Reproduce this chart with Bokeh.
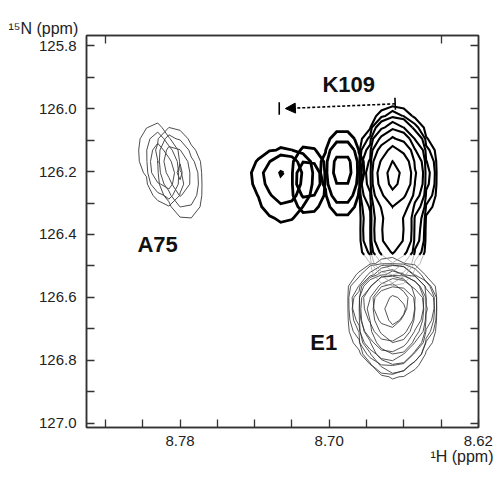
import numpy as np
import contourpy
from bokeh.plotting import figure
from bokeh.models import (Range1d, FixedTicker, LinearAxis, PrintfTickFormatter,
                          Label, Arrow, NormalHead, TeeHead, Title)
from bokeh.embed import file_html
from bokeh.resources import INLINE

# ---------------- axes ----------------
x_major = [8.78, 8.70, 8.62]
x_minor = [8.82, 8.80, 8.76, 8.74, 8.72, 8.68, 8.66, 8.64]
x_top_ticks = [8.82, 8.64]
y_major = [125.8, 126.0, 126.2, 126.4, 126.6, 126.8, 127.0]
y_minor = [125.9, 126.1, 126.3, 126.5, 126.7, 126.9]
x_title = "\u00b9H (ppm)"
y_title = "\u00b9\u2075N (ppm)"

# ---------------- peaks (ppm) ----------------
# each spectrum (group) is a sum of gaussian-like components
pk_group = ["A75a", "A75b", "K109a", "K109a", "K109b", "K109c", "K109d", "E1a", "E1b"]
pk_x     = [8.7895, 8.7820, 8.6662, 8.6662, 8.6930, 8.7241, 8.7112, 8.6675, 8.6650]
pk_y     = [126.193, 126.190, 126.212, 126.400, 126.190, 126.199, 126.225, 126.605, 126.625]
pk_amp   = [1.0, 1.0, 1.0, 0.2, 1.0, 1.0, 1.0, 1.0, 1.0]
pk_sxl   = [0.0036, 0.0036, 0.0041, 0.0041, 0.0040, 0.0062, 0.0029, 0.0058, 0.0055]
pk_sxr   = [0.0036, 0.0047, 0.0056, 0.0046, 0.0040, 0.0054, 0.0029, 0.0062, 0.0058]
pk_syu   = [0.056, 0.050, 0.0534, 0.060, 0.046, 0.027, 0.0405, 0.031, 0.030]
pk_syd   = [0.044, 0.062, 0.0534, 0.045, 0.060, 0.061, 0.0405, 0.060, 0.062]
pk_shear = [0.0335, 0.0335, 0.0, 0.0, 0.0, 0.0, 0.0, 0.0, 0.0]

lev_A75a  = [0.034, 0.12, 0.35, 0.8]
lev_A75b  = [0.034, 0.12, 0.35, 0.8]
lev_K109a = [0.000406, 0.00118, 0.0034, 0.0099, 0.0287, 0.0832, 0.241, 0.7]
lev_K109b = [0.044, 0.164, 0.546, 0.97]
lev_K109c = [0.034, 0.24, 0.9]
lev_K109d = [0.034, 0.25]
lev_E1a   = [0.0006, 0.002, 0.007, 0.025, 0.09, 0.33]
lev_E1b   = [0.001, 0.0035, 0.012, 0.045, 0.16, 0.6]

# K109 bold contours are cut at this 15N shift (thin below)
k109_cut = 126.465

# peak labels
lbl_text = ["K109", "A75", "E1"]
lbl_x    = [8.6895, 8.8029, 8.7101]
lbl_y    = [125.923, 126.431, 126.744]
lbl_align = ["center", "left", "left"]

# K109 shift arrow
arrow_x = [8.6646, 8.7235]
arrow_y = [125.985, 126.000]
arrow_tee_x = 8.7268

# ---------------- contour computation ----------------
grid_dx, grid_dy = 0.006, 0.036
gx = np.arange(8.600, 8.850, grid_dx)
gy = np.arange(125.70, 127.10, grid_dy)
X, Y = np.meshgrid(gx, gy)


def field(g):
    Z = np.zeros_like(X)
    for i in range(len(pk_group)):
        if pk_group[i] != g:
            continue
        dy = Y - pk_y[i]
        dx = X - pk_x[i] + pk_shear[i] * dy
        sx = np.where(dx > 0, pk_sxl[i], pk_sxr[i])
        sy = np.where(dy < 0, pk_syu[i], pk_syd[i])
        Z += pk_amp[i] * np.exp(-0.5 * ((dx / sx) ** 2 + (dy / sy) ** 2))
    return Z


def contours(g, levels):
    Z = field(g)
    cg = contourpy.contour_generator(gx, gy, Z, line_type="Separate")
    out = []
    for lv in levels:
        for ln in cg.lines(lv):
            if len(ln) > 1:
                out.append(np.asarray(ln))
    return out


def split_at(line, cut):
    above, below = [], []
    cur = [line[0]]
    cur_above = line[0][1] <= cut
    for p0, p1 in zip(line[:-1], line[1:]):
        a1 = p1[1] <= cut
        if a1 != cur_above:
            t = (cut - p0[1]) / (p1[1] - p0[1])
            q = p0 + t * (p1 - p0)
            cur.append(q)
            (above if cur_above else below).append(np.array(cur))
            cur = [q]
            cur_above = a1
        cur.append(p1)
    (above if cur_above else below).append(np.array(cur))
    return above, below


def xy(lines):
    return [list(l[:, 0]) for l in lines], [list(l[:, 1]) for l in lines]


# ---------------- figure ----------------
p = figure(width=495, height=481,
           x_range=Range1d(8.8302, 8.6199), y_range=Range1d(127.013, 125.768),
           output_backend="svg", toolbar_location=None,
           min_border_left=86, min_border_right=17, min_border_top=35, min_border_bottom=54)
p.grid.visible = False
p.outline_line_color = "#333333"
p.outline_line_width = 1.5
p.background_fill_color = "white"


def style_axis(ax, ticks, minor, fmt, standoff=8):
    ax.ticker = FixedTicker(ticks=ticks, minor_ticks=minor)
    ax.formatter = PrintfTickFormatter(format=fmt)
    ax.major_tick_in = 8
    ax.major_tick_out = 0
    ax.minor_tick_in = 8
    ax.minor_tick_out = 0
    ax.major_tick_line_color = "#333333"
    ax.minor_tick_line_color = "#333333"
    ax.major_tick_line_width = 1.3
    ax.minor_tick_line_width = 1.3
    ax.axis_line_color = "#333333"
    ax.axis_line_width = 1.5
    ax.major_label_standoff = standoff
    ax.major_label_text_font = "Liberation Sans"
    ax.major_label_text_color = "#222222"
    ax.major_label_text_font_size = "15px"


style_axis(p.xaxis[0], x_major, x_minor, "%.2f", 8)
style_axis(p.yaxis[0], y_major, y_minor, "%.1f", 10)

# mirror axes: ticks only (as minor ticks, so no labels are produced)
right_ax = LinearAxis()
style_axis(right_ax, [], y_major + y_minor, "%.1f", 0)
p.add_layout(right_ax, "right")

top_ax = LinearAxis()
style_axis(top_ax, [], x_top_ticks, "%.2f", 0)
p.add_layout(top_ax, "above")

# axis titles as panel titles
p.add_layout(Title(text=y_title, align="left", offset=-78, standoff=-3,
                   text_font="Liberation Sans", text_font_style="normal",
                   text_font_size="16px", text_color="#222222"), "above")
p.add_layout(Title(text=x_title, align="right", offset=-15, standoff=-5,
                   text_font="Liberation Sans", text_font_style="normal",
                   text_font_size="16px", text_color="#222222"), "below")

# E1 (thin)
for g, lv in (("E1a", lev_E1a), ("E1b", lev_E1b)):
    xs, ys = xy(contours(g, lv))
    p.multi_line(xs, ys, line_color="#2b2b2b", line_width=0.8)

# A75 (thin grey)
for g, lv in (("A75a", lev_A75a), ("A75b", lev_A75b)):
    xs, ys = xy(contours(g, lv))
    p.multi_line(xs, ys, line_color="#4d4d4d", line_width=1.0)

# K109 main peak: bold above the cut, faint below
above_all, below_all = [], []
for ln in contours("K109a", lev_K109a):
    a, b = split_at(ln, k109_cut)
    above_all += [s for s in a if len(s) > 1]
    below_all += [s for s in b if len(s) > 1]
xs, ys = xy(below_all)
p.multi_line(xs, ys, line_color="#9a9a9a", line_width=0.7)
xs, ys = xy(above_all)
p.multi_line(xs, ys, line_color="black", line_width=2.1, line_join="miter")

for g, lv in (("K109b", lev_K109b), ("K109c", lev_K109c), ("K109d", lev_K109d)):
    xs, ys = xy(contours(g, lv))
    p.multi_line(xs, ys, line_color="black", line_width=2.8, line_join="miter")

# arrow
p.add_layout(Arrow(x_start=arrow_x[0], y_start=arrow_y[0], x_end=arrow_x[1], y_end=arrow_y[1],
                   line_dash="3 2", line_width=1.6, line_color="black",
                   start=TeeHead(size=12, line_width=1.6, line_color="black"),
                   end=NormalHead(size=10, fill_color="black", line_color="black", line_width=1)))
p.segment(x0=[arrow_tee_x], y0=[arrow_y[1] - 0.02], x1=[arrow_tee_x], y1=[arrow_y[1] + 0.02],
          line_color="black", line_width=1.6)

for t, x, y, al in zip(lbl_text, lbl_x, lbl_y, lbl_align):
    p.add_layout(Label(x=x, y=y, text=t, text_font="Liberation Sans", text_font_style="bold",
                       text_font_size="22px", text_color="#111111", text_align=al,
                       text_baseline="alphabetic"))

open("out.html", "w").write(file_html(p, INLINE))
